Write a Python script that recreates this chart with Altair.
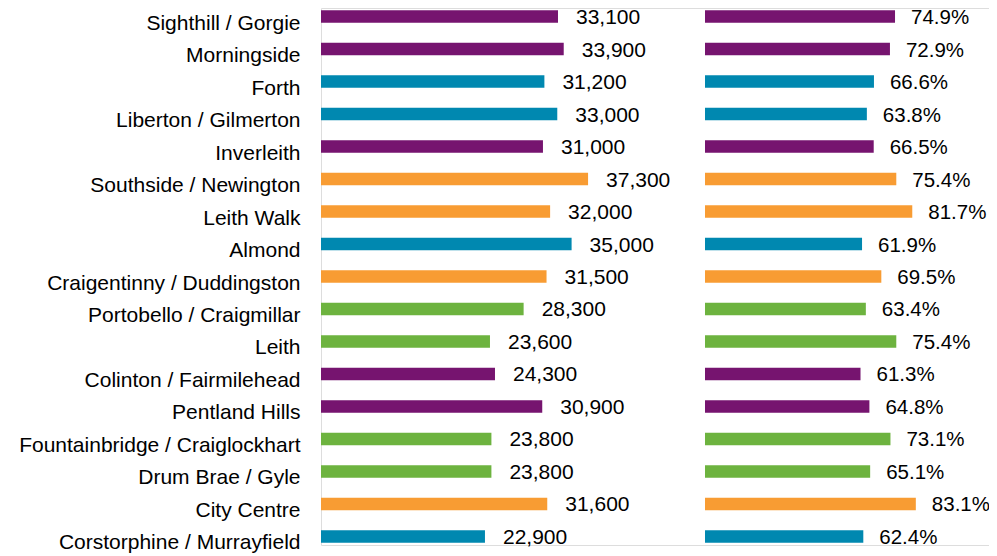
import altair as alt
import pandas as pd

wards = [
    "Sighthill / Gorgie", "Morningside", "Forth", "Liberton / Gilmerton",
    "Inverleith", "Southside / Newington", "Leith Walk", "Almond",
    "Craigentinny / Duddingston", "Portobello / Craigmillar", "Leith",
    "Colinton / Fairmilehead", "Pentland Hills", "Fountainbridge / Craiglockhart",
    "Drum Brae / Gyle", "City Centre", "Corstorphine / Murrayfield",
]
income = [33100, 33900, 31200, 33000, 31000, 37300, 32000, 35000, 31500,
          28300, 23600, 24300, 30900, 23800, 23800, 31600, 22900]
share = [74.9, 72.9, 66.6, 63.8, 66.5, 75.4, 81.7, 61.9, 69.5,
         63.4, 75.4, 61.3, 64.8, 73.1, 65.1, 83.1, 62.4]
group = ["purple", "purple", "teal", "teal", "purple", "orange", "orange", "teal",
         "orange", "green", "green", "purple", "purple", "green", "green", "orange", "teal"]

income_label = [f"{v:,}" for v in income]
share_label = [f"{v:.1f}%" for v in share]

df = pd.DataFrame({
    "ward": wards, "income": income, "share": share, "group": group,
    "income_label": income_label, "share_label": share_label,
})

colors = alt.Scale(domain=["purple", "teal", "orange", "green"],
                   range=["#76146f", "#0088b0", "#f89c33", "#6db33f"])

FONT = "Liberation Sans"
FS = 21

y_axis = alt.Axis(ticks=False, domain=False, grid=False, labelPadding=21,
                  labelFontSize=FS, labelFont=FONT, labelColor="#000000",
                  labelOffset=7, labelLimit=400)
y = alt.Y("ward:N", sort=wards, title=None,
          scale=alt.Scale(paddingInner=0.615, paddingOuter=0.07), axis=y_axis)
y_plain = alt.Y("ward:N", sort=wards, title=None, axis=y_axis)

x1 = alt.X("income:Q", title=None,
           scale=alt.Scale(domain=[0, 40000], range=[0, 286.4]), axis=None)
x2 = alt.X("share:Q", title=None,
           scale=alt.Scale(domain=[0, 100], range=[384, 637.7]), axis=None)

base = alt.Chart(df)
bars1 = base.mark_bar().encode(y=y, x=x1, color=alt.Color("group:N", scale=colors, legend=None))
text1 = base.mark_text(align="left", baseline="middle", dx=18, dy=1.5, font=FONT,
                       fontSize=FS, color="#000000").encode(
    y=y_plain, x=x1, text="income_label:N")
bars2 = base.mark_bar().encode(y=y_plain, x=x2,
                               color=alt.Color("group:N", scale=colors, legend=None))
text2 = base.mark_text(align="left", baseline="middle", dx=16, dy=1.5, font=FONT,
                       fontSize=20.5, color="#000000").encode(
    y=y_plain, x=x2, text="share_label:N")

chart = alt.layer(bars1, text1, bars2, text2).resolve_scale(x="independent").properties(
    width=668, height=537,
    autosize=alt.AutoSizeParams(type="none"),
    padding={"left": 313, "top": 0, "right": 0, "bottom": 11},
).configure_view(stroke="transparent", strokeWidth=0).configure_axis(
    domain=False, grid=False, ticks=False
).configure(background="#ffffff")

chart.save("out.html", embed_options={"renderer": "svg", "actions": False})
